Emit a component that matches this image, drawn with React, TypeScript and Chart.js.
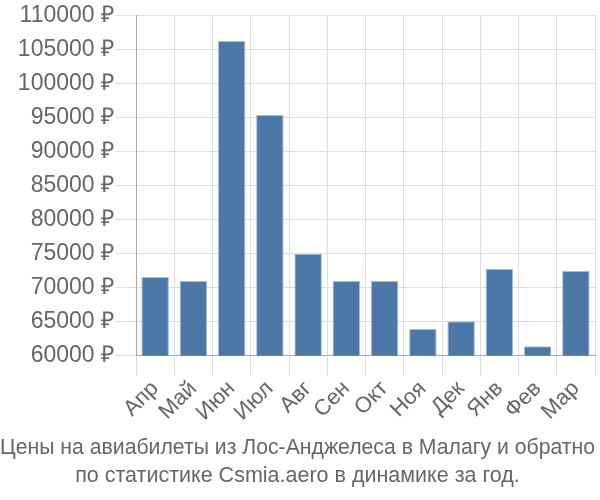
import React, { useEffect, useRef } from "react";
import { Chart, registerables } from "chart.js";

Chart.register(...registerables);

const categories = ["Апр", "Май", "Июн", "Июл", "Авг", "Сен", "Окт", "Ноя", "Дек", "Янв", "Фев", "Мар"];
const prices = [71600, 71000, 106300, 95400, 75000, 71000, 71000, 64000, 65100, 72800, 61400, 72500];
const titleLines = [
  "Цены на авиабилеты из Лос-Анджелеса в Малагу и обратно",
  "по статистике Csmia.aero в динамике за год.",
];

export default function App() {
  const ref = useRef<HTMLCanvasElement>(null);
  useEffect(() => {
    document.body.style.margin = "0";
    const family = "'Liberation Sans', Arial, sans-serif";
    const chart = new Chart(ref.current!, {
      type: "bar",
      data: {
        labels: categories,
        datasets: [
          {
            data: prices,
            backgroundColor: "#4c78a8",
            borderColor: "#a9c0da",
            borderWidth: 1,
            categoryPercentage: 0.8,
            barPercentage: 0.9,
          },
        ],
      },
      options: {
        animation: false,
        responsive: false,
        layout: { padding: { right: 5, top: 4, left: 0 } },
        plugins: {
          legend: { display: false },
          tooltip: { enabled: false },
          title: {
            display: true,
            position: "bottom",
            text: titleLines,
            color: "#666",
            font: { family, size: 21.5, weight: "normal", lineHeight: 1.3 },
            padding: { top: 8, bottom: 10 },
          },
        },
        scales: {
          x: {
            grid: { color: "#dddddd", tickLength: 20, offset: true },
            border: { color: "#aaaaaa" },
            ticks: {
              color: "#666",
              font: { family, size: 22 },
              maxRotation: 45,
              minRotation: 45,
              padding: 0,
              autoSkip: false,
            },
          },
          y: {
            min: 60000,
            max: 110000,
            grid: { color: "#dddddd", tickLength: 20 },
            border: { color: "#aaaaaa" },
            afterFit: (axis: any) => {
              axis.width = 136;
            },
            ticks: {
              stepSize: 5000,
              color: "#666",
              font: { family, size: 23 },
              padding: 2,
              callback: (v: any) => v + " ₽",
            },
          },
        },
      },
    });
    return () => chart.destroy();
  }, []);
  return (
    <div style={{ width: 600, height: 500 }}>
      <canvas ref={ref} width={600} height={500} />
    </div>
  );
}
